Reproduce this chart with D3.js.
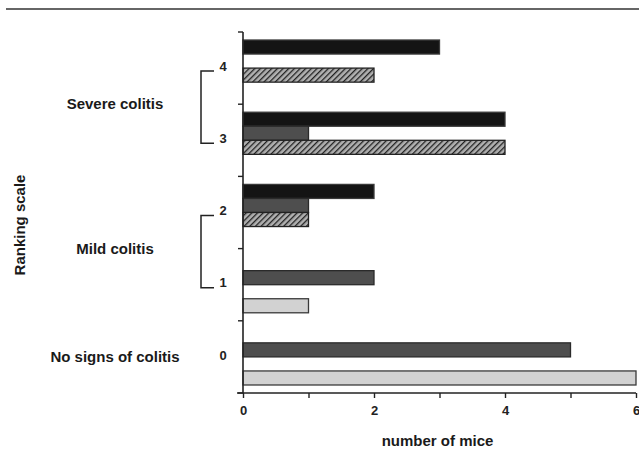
<!DOCTYPE html>
<html>
<head>
<meta charset="utf-8">
<script src="https://cdn.jsdelivr.net/npm/d3@7"></script>
<style>
body { margin: 0; background: #fff; }
svg { display: block; font-family: "Liberation Sans", Arial, Helvetica, sans-serif; }
</style>
</head>
<body>
<div id="chart"></div>
<script>
// ranking scale, top to bottom
var ranks = [4, 3, 2, 1, 0];
// number of mice per rank, one array per group (same order as ranks)
var blackBars   = [3, 4, 2, 0, 0];
var stippleBars = [0, 1, 1, 2, 5];
var hatchBars   = [2, 4, 1, 0, 0];
var lightBars   = [0, 0, 0, 1, 6];
var groups = ["black", "stipple", "hatch", "light"];
var xTicks = [0, 1, 2, 3, 4, 5, 6];
var xTickLabels = ["0", "", "2", "", "4", "", "6"];
var severityLabels = ["Severe colitis", "Mild colitis", "No signs of colitis"];
var severityRanks = [[4, 3], [2, 1], [0]];

var W = 639, H = 452;
var x0 = 243, x1 = 636, yTop = 32, yBot = 393;

var svg = d3.select("#chart").append("svg")
  .attr("width", W)
  .attr("height", H);

// hatch pattern
var defs = svg.append("defs");
var pat = defs.append("pattern")
  .attr("id", "hatch")
  .attr("patternUnits", "userSpaceOnUse")
  .attr("width", 4).attr("height", 4)
  .attr("patternTransform", "rotate(45)");
pat.append("rect").attr("width", 4).attr("height", 4).attr("fill", "#b0b0b0");
pat.append("line").attr("x1", 0).attr("y1", 0).attr("x2", 0).attr("y2", 4)
  .attr("stroke", "#222").attr("stroke-width", 2.6);

var fills = { black: "#141414", stipple: "#4e4e4e", hatch: "url(#hatch)", light: "#d2d2d2" };
var strokes = { black: "#3a3a3a", stipple: "#2a2a2a", hatch: "#222", light: "#3a3a3a" };

// scales
var xScale = d3.scaleLinear().domain([0, 6]).range([x0, x1]);
var yScale = d3.scaleBand().domain(ranks).range([yTop, yBot]);
var gScale = d3.scaleBand().domain(groups).range([0, yScale.bandwidth()]).paddingOuter(0.57);

// top page rule
svg.append("line")
  .attr("x1", 6).attr("x2", W).attr("y1", 9).attr("y2", 9)
  .attr("stroke", "#333").attr("stroke-width", 1.5);

// bar data
var series = { black: blackBars, stipple: stippleBars, hatch: hatchBars, light: lightBars };
var bars = [];
ranks.forEach(function(r, i) {
  groups.forEach(function(g) {
    if (series[g][i] > 0) bars.push({ rank: r, group: g, v: series[g][i] });
  });
});

svg.selectAll("rect.bar")
  .data(bars)
  .enter()
  .append("rect")
  .attr("class", "bar")
  .attr("x", xScale(0))
  .attr("y", function(d) { return yScale(d.rank) + gScale(d.group); })
  .attr("width", function(d) { return xScale(d.v) - xScale(0); })
  .attr("height", gScale.bandwidth())
  .attr("fill", function(d) { return fills[d.group]; })
  .attr("stroke", function(d) { return strokes[d.group]; })
  .attr("stroke-width", 1.3);

// x axis
var xAxis = d3.axisBottom(xScale)
  .tickValues(xTicks)
  .tickFormat(function(d, i) { return xTickLabels[i]; })
  .tickSize(5)
  .tickPadding(8);

var gx = svg.append("g")
  .attr("transform", "translate(0," + yBot + ")")
  .call(xAxis);
gx.select(".domain").remove();
gx.append("line").attr("x1", x0 - 6).attr("x2", x1).attr("stroke", "#222").attr("stroke-width", 1.6);
gx.selectAll(".tick line").attr("stroke", "#222").attr("stroke-width", 1.4);
gx.selectAll(".tick text")
  .attr("fill", "#222")
  .style("font-size", "13px")
  .style("font-weight", "bold");

// y axis: ticks at band edges
var edges = ranks.map(function(r) { return yScale(r); }).concat([yBot]);
var gy = svg.append("g");
gy.append("line")
  .attr("x1", x0).attr("x2", x0).attr("y1", yTop).attr("y2", yBot)
  .attr("stroke", "#222").attr("stroke-width", 1.6);
gy.selectAll("line.tk")
  .data(edges)
  .enter()
  .append("line")
  .attr("class", "tk")
  .attr("x1", x0 - 5).attr("x2", x0)
  .attr("y1", function(d) { return d; }).attr("y2", function(d) { return d; })
  .attr("stroke", "#222").attr("stroke-width", 1.4);

// rank labels
var mid = function(r) { return yScale(r) + yScale.bandwidth() / 2; };
svg.selectAll("text.rank")
  .data(ranks)
  .enter()
  .append("text")
  .attr("class", "rank")
  .attr("x", 223)
  .attr("y", function(d) { return mid(d); })
  .attr("dy", "0.2em")
  .attr("text-anchor", "middle")
  .attr("fill", "#222")
  .style("font-size", "13px")
  .style("font-weight", "bold")
  .text(function(d) { return d; });

// brackets for the two-rank groups
severityRanks.forEach(function(rs) {
  if (rs.length < 2) return;
  var ya = mid(rs[0]) + 3, yb = mid(rs[1]) + 3;
  svg.append("path")
    .attr("d", "M214," + ya + "H201V" + yb + "H214")
    .attr("fill", "none")
    .attr("stroke", "#222")
    .attr("stroke-width", 1.5);
});

// severity labels
svg.selectAll("text.sev")
  .data(severityLabels)
  .enter()
  .append("text")
  .attr("class", "sev")
  .attr("x", 115)
  .attr("y", function(d, i) { return d3.mean(severityRanks[i], mid); })
  .attr("dy", "0.35em")
  .attr("text-anchor", "middle")
  .attr("fill", "#1a1a1a")
  .style("font-size", "15px")
  .style("font-weight", "bold")
  .text(function(d) { return d; });

// axis titles
svg.append("text")
  .attr("x", (x0 + x1) / 2 - 2)
  .attr("y", 441)
  .attr("dy", "0.35em")
  .attr("text-anchor", "middle")
  .attr("fill", "#1a1a1a")
  .style("font-size", "15px")
  .style("font-weight", "bold")
  .text("number of mice");

svg.append("text")
  .attr("transform", "translate(20,225) rotate(-90)")
  .attr("dy", "0.35em")
  .attr("text-anchor", "middle")
  .attr("fill", "#1a1a1a")
  .style("font-size", "15px")
  .style("font-weight", "bold")
  .text("Ranking scale");
</script>
</body>
</html>
